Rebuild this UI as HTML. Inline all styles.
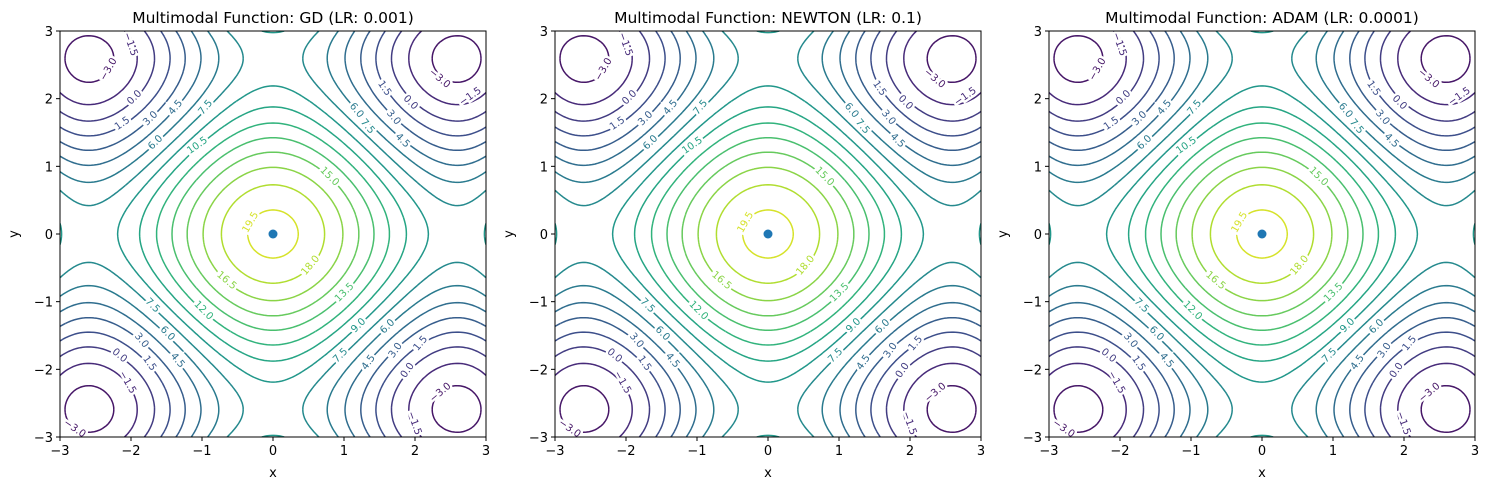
<!DOCTYPE html>
<html><head><meta charset="utf-8"><style>
body{margin:0;background:#fff;}
svg{display:block;font-family:"DejaVu Sans","Liberation Sans",sans-serif;}
</style></head><body>
<svg id="fig" width="1489" height="490" viewBox="0 0 1489 490" xmlns="http://www.w3.org/2000/svg"></svg>
<script>
const titles=["Multimodal Function: GD (LR: 0.001)","Multimodal Function: NEWTON (LR: 0.1)","Multimodal Function: ADAM (LR: 0.0001)"];
const panelLefts=[60,555,1049];
const levels=[-3,-1.5,0,1.5,3,4.5,6,7.5,9,10.5,12,13.5,15,16.5,18,19.5];
const tickVals=[-3,-2,-1,0,1,2,3];
const pointX=[0,0,0];
const pointY=[0,0,0];
const labelText=["−1.5","−3.0","0.0","1.5","3.0","4.5","7.5","6.0","10.5","15.0","19.5","18.0","16.5","13.5","12.0","7.5","6.0","3.0","4.5","1.5","0.0","−1.5","−3.0","6.0","7.5","1.5","3.0","4.5","0.0","−3.0","−1.5","9.0","6.0","7.5","4.5","3.0","1.5","0.0","−3.0","−1.5"];
const labelPx=[131,108,134,122,150,175,205,155,197,330,250,310,227,344,204,153,168,142,178,150,120,128,75,357,368,385,394,403,411,440,470,358,387,340,368,395,420,407,440,415];
const labelPy=[44,69,97,123,118,107,107,142,145,176,222,265,280,292,310,305,333,340,360,363,355,382,428,110,126,88,117,140,102,78,96,325,326,355,362,350,343,370,392,423];
const labelRot=[70,-60,-45,-35,-45,-50,-50,-45,-35,45,-60,-50,40,-45,45,45,45,50,50,55,40,60,35,50,50,55,50,45,45,40,-35,-45,-45,-45,-55,-55,-50,-55,-40,70];
const NS="http://www.w3.org/2000/svg";
const fig=document.getElementById('fig');
const W=426,H=406,TOP=31;
function f(x,y){return x*x+y*y+10*Math.cos(x)+10*Math.cos(y);}
const vir=[[68,1,84],[72,40,120],[62,74,137],[49,104,142],[38,130,142],[31,158,137],[53,183,121],[109,205,89],[180,222,44],[253,231,37]];
function viridis(t){t=Math.max(0,Math.min(1,t));const s=t*(vir.length-1);const i=Math.min(vir.length-2,Math.floor(s));const u=s-i;const c=vir[i].map((v,k)=>Math.round(v+(vir[i+1][k]-v)*u));return `rgb(${c[0]},${c[1]},${c[2]})`;}
function el(tag,attrs,parent){const e=document.createElementNS(NS,tag);for(const k in attrs)e.setAttribute(k,attrs[k]);(parent||fig).appendChild(e);return e;}
const N=150;
const grid=[];for(let j=0;j<=N;j++){grid.push([]);for(let i=0;i<=N;i++){grid[j].push(f(-3+6*i/N,-3+6*j/N));}}
function contourPath(lv,sx,sy){let d="";
 for(let j=0;j<N;j++)for(let i=0;i<N;i++){
  const v=[grid[j][i],grid[j][i+1],grid[j+1][i+1],grid[j+1][i]];
  const p=[[i,j],[i+1,j],[i+1,j+1],[i,j+1]];const pts=[];
  for(let e=0;e<4;e++){const a=v[e],b=v[(e+1)%4];if((a<lv)!==(b<lv)){const t=(lv-a)/(b-a);const pa=p[e],pb=p[(e+1)%4];pts.push([pa[0]+(pb[0]-pa[0])*t,pa[1]+(pb[1]-pa[1])*t]);}}
  for(let k=0;k+1<pts.length;k+=2){const X=q=>sx(-3+6*q[0]/N),Y=q=>sy(-3+6*q[1]/N);d+=`M${X(pts[k]).toFixed(1)},${Y(pts[k]).toFixed(1)}L${X(pts[k+1]).toFixed(1)},${Y(pts[k+1]).toFixed(1)}`;}
 }return d;}
panelLefts.forEach((L,pi)=>{
 const sx=x=>L+(x+3)/6*W, sy=y=>TOP+(3-y)/6*H;
 const g=el('g',{});
 const cl=el('clipPath',{id:'c'+pi},g);el('rect',{x:L,y:TOP,width:W,height:H},cl);
 const cg=el('g',{'clip-path':`url(#c${pi})`},g);
 levels.forEach(lv=>{const p=el('path',{d:contourPath(lv,sx,sy),fill:'none',stroke:viridis((lv+4.5)/25.5),'stroke-width':1.5},cg);
  });
 const lg=el('g',{'font-size':'10'},g);
 labelPx.forEach((px,k)=>{const txt=labelText[k];const v=parseFloat(txt.replace('−','-'));
  const x=L+px-60,y=labelPy[k];
  const t=el('text',{x:x,y:y+3.5,'text-anchor':'middle',fill:viridis((v+4.5)/25.5),transform:`rotate(${labelRot[k]} ${x} ${y})`,stroke:'#fff','stroke-width':5,'paint-order':'stroke'},lg);
  t.textContent=txt;});
 const dot=el('circle',{cx:sx(pointX[pi]),cy:sy(pointY[pi]),r:4.5,fill:'#1f77b4'},g);
 const fr=el('rect',{x:L,y:TOP,width:W,height:H,fill:'none',stroke:'#000','stroke-width':1},g);
 tickVals.forEach(v=>{
  el('line',{x1:sx(v),x2:sx(v),y1:TOP+H,y2:TOP+H+4,stroke:'#000'},g);
  const tx=el('text',{x:sx(v),y:TOP+H+18,'text-anchor':'middle','font-size':'13'},g);tx.textContent=(v<0?'−':'')+Math.abs(v);
  el('line',{x1:L-4,x2:L,y1:sy(v),y2:sy(v),stroke:'#000'},g);
  const ty=el('text',{x:L-7,y:sy(v)+5,'text-anchor':'end','font-size':'13'},g);ty.textContent=(v<0?'−':'')+Math.abs(v);
 });
 const xt=el('text',{x:L+W/2,y:477,'text-anchor':'middle','font-size':'13'},g);xt.textContent='x';
 const yt=el('text',{x:L-42,y:TOP+H/2,'text-anchor':'middle','font-size':'13',transform:`rotate(-90 ${L-42} ${TOP+H/2})`},g);yt.textContent='y';
 const ti=el('text',{x:L+W/2,y:23,'text-anchor':'middle','font-size':'15.5'},g);ti.textContent=titles[pi];
});
</script>
</body></html>
